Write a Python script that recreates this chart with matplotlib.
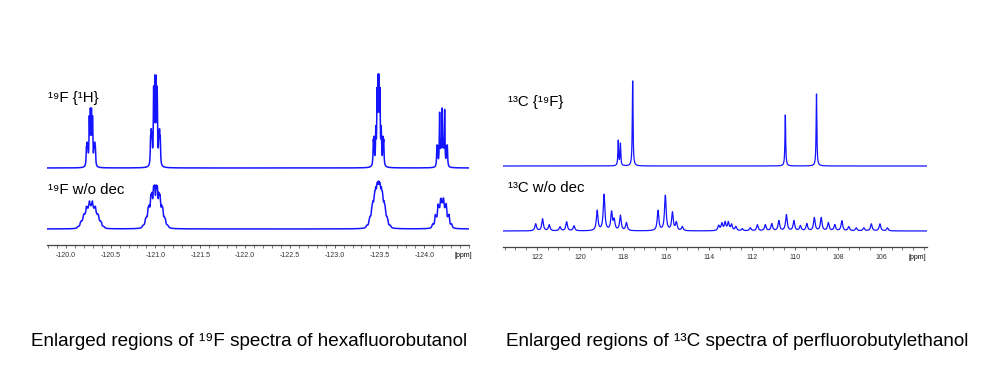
import numpy as np
import matplotlib
matplotlib.use("Agg")
import matplotlib.pyplot as plt
from matplotlib.ticker import FixedLocator, MultipleLocator

plt.rcParams['font.family'] = ['Liberation Sans', 'DejaVu Sans']

# ---- 19F spectra of hexafluorobutanol (ppm) ----
F19_ticks = [-120.0, -120.5, -121.0, -121.5, -122.0, -122.5, -123.0, -123.5, -124.0]
F19_tick_labels = ['-120.0', '-120.5', '-121.0', '-121.5', '-122.0',
                   '-122.5', '-123.0', '-123.5', '-124.0']
F19_centers = [-120.28, -121.00, -123.49, -124.20]
F19_dec_heights = [60, 93, 94, 60]      # 19F {1H}
F19_coup_heights = [28, 44, 48, 31]     # 19F w/o dec
# F-F multiplet lines (offset ppm, relative intensity)
F19_pat_off = [
    [-0.050, -0.042, -0.034, -0.018, -0.006, 0.006, 0.018, 0.034, 0.042, 0.050],
    [-0.054, -0.046, -0.038, -0.020, -0.007, 0.007, 0.020, 0.038, 0.046, 0.054],
    [-0.058, -0.050, -0.030, -0.016, -0.005, 0.005, 0.016, 0.030, 0.050, 0.058],
    [-0.058, -0.050, -0.028, -0.014, 0.0, 0.014, 0.028, 0.050, 0.058],
]
F19_pat_int = [
    [0.32, 0.36, 0.30, 0.90, 1.0, 1.0, 0.90, 0.30, 0.36, 0.32],
    [0.30, 0.34, 0.30, 0.90, 1.0, 1.0, 0.90, 0.30, 0.34, 0.30],
    [0.30, 0.33, 0.45, 0.90, 1.0, 1.0, 0.90, 0.45, 0.33, 0.30],
    [0.33, 0.30, 1.0, 0.35, 1.0, 0.35, 0.95, 0.30, 0.33],
]
# extra H couplings seen without decoupling
F19_h_off = [
    [-0.10, -0.067, -0.033, 0.0, 0.033, 0.067, 0.10],
    [-0.09, -0.06, -0.03, 0.0, 0.03, 0.06, 0.09],
    [-0.075, -0.045, -0.015, 0.015, 0.045, 0.075],
    [-0.05, -0.017, 0.017, 0.05],
]
F19_h_int = [
    [1, 2, 3, 3.5, 3, 2, 1],
    [1, 2, 3, 3.5, 3, 2, 1],
    [1, 2.2, 3, 3, 2.2, 1],
    [1, 1.6, 1.6, 1],
]

# ---- 13C spectra of perfluorobutylethanol (ppm) ----
C13_ticks = [122, 120, 118, 116, 114, 112, 110, 108, 106]
C13_tick_labels = ['122', '120', '118', '116', '114', '112', '110', '108', '106']
C13_dec_pos = [118.22, 118.12, 117.55, 110.45, 109.00]
C13_dec_heights = [25, 22, 85, 51, 72]
C13_coup_pos = [122.06, 121.74, 121.43, 120.93, 120.62, 120.28,
                119.20, 118.88, 118.53, 118.41, 118.12, 117.84,
                116.37, 116.03, 115.70, 115.52, 115.24,
                113.55, 113.40, 113.25, 113.10, 112.95, 112.75, 112.45,
                112.08, 111.75, 111.38, 111.08, 110.75, 110.40, 110.05,
                109.75, 109.45, 109.10, 108.78, 108.45, 108.15, 107.82,
                107.50, 107.15, 106.80, 106.45, 106.05, 105.70]
C13_coup_heights = [7, 12, 6, 4, 9, 5,
                    20, 36, 18, 10, 15, 8,
                    20, 35, 18, 8, 4,
                    5, 7, 8, 8, 6, 4, 2,
                    3, 6, 6, 7, 10, 16, 10,
                    5, 7, 13, 13, 8, 6, 10,
                    4, 3, 3, 7, 7, 3]


def lorentz(x, x0, h, w):
    return h / (1.0 + ((x - x0) / w) ** 2)


fig = plt.figure(figsize=(10, 3.78), dpi=100)
blue = '#1414ff'

# ---- left panel ----
ax1 = fig.add_axes([0.047, 0.3519, 0.422, 0.4894])
x1 = np.linspace(-119.79, -124.5, 30000)
top1 = np.zeros_like(x1)
bot1 = np.zeros_like(x1)
for i, c in enumerate(F19_centers):
    part = np.zeros_like(x1)
    for o, r in zip(F19_pat_off[i], F19_pat_int[i]):
        part += lorentz(x1, c + o, r, 0.004)
    top1 += part * F19_dec_heights[i] / part.max()
    part = np.zeros_like(x1)
    for ho, hr in zip(F19_h_off[i], F19_h_int[i]):
        for o, r in zip(F19_pat_off[i], F19_pat_int[i]):
            part += lorentz(x1, c + o + ho, r * hr, 0.007)
    bot1 += part * F19_coup_heights[i] / part.max()
ax1.plot(x1, top1 + 77, color=blue, lw=1.1)
ax1.plot(x1, bot1 + 16, color=blue, lw=1.1)
ax1.set_xlim(-119.79, -124.5)
ax1.set_ylim(0, 185)
ax1.xaxis.set_major_locator(FixedLocator(F19_ticks))
ax1.set_xticklabels(F19_tick_labels)
ax1.xaxis.set_minor_locator(MultipleLocator(0.1))
ax1.text(-119.8, 147, '¹⁹F {¹H}', fontsize=10.8, va='center', ha='left')
ax1.text(-119.8, 55, '¹⁹F w/o dec', fontsize=10.8, va='center', ha='left')
ax1.annotate('[ppm]', xy=(-124.44, 0), xycoords=('data', 'axes fraction'),
             xytext=(0, -4.7), textcoords='offset points',
             ha='center', va='top', fontsize=5)

# ---- right panel ----
ax2 = fig.add_axes([0.503, 0.3466, 0.424, 0.4947])
x2 = np.linspace(123.58, 103.86, 30000)
top2 = np.zeros_like(x2)
bot2 = np.zeros_like(x2)
for p, h in zip(C13_dec_pos, C13_dec_heights):
    top2 += lorentz(x2, p, h, 0.02)
for p, h in zip(C13_coup_pos, C13_coup_heights):
    bot2 += lorentz(x2, p, h, 0.045)
ax2.plot(x2, top2 + 81, color=blue, lw=0.9)
ax2.plot(x2, bot2 + 16, color=blue, lw=0.9)
ax2.set_xlim(123.58, 103.86)
ax2.set_ylim(0, 187)
ax2.xaxis.set_major_locator(FixedLocator(C13_ticks))
ax2.set_xticklabels(C13_tick_labels)
ax2.xaxis.set_minor_locator(MultipleLocator(0.5))
ax2.text(123.35, 145, '¹³C {¹⁹F}', fontsize=10.8, va='center', ha='left')
ax2.text(123.35, 59, '¹³C w/o dec', fontsize=10.8, va='center', ha='left')
ax2.annotate('[ppm]', xy=(104.33, 0), xycoords=('data', 'axes fraction'),
             xytext=(0, -4.7), textcoords='offset points',
             ha='center', va='top', fontsize=5)

for ax in (ax1, ax2):
    for s in ('top', 'left', 'right'):
        ax.spines[s].set_visible(False)
    ax.spines['bottom'].set_color('#444444')
    ax.spines['bottom'].set_linewidth(0.9)
    ax.set_yticks([])
    ax.tick_params(axis='x', which='major', direction='out', length=2.5,
                   width=0.6, color='#444444', labelsize=5, pad=2.2,
                   labelcolor='#333333')
    ax.tick_params(axis='x', which='minor', direction='out', length=1.8,
                   width=0.5, color='#444444')
    ax.patch.set_alpha(0)

fig.text(0.249, 1 - 342 / 378, 'Enlarged regions of ¹⁹F spectra of hexafluorobutanol',
         ha='center', va='center', fontsize=13.6)
fig.text(0.7375, 1 - 342 / 378, 'Enlarged regions of ¹³C spectra of perfluorobutylethanol',
         ha='center', va='center', fontsize=13.6)

fig.savefig('out.png', dpi=100)
